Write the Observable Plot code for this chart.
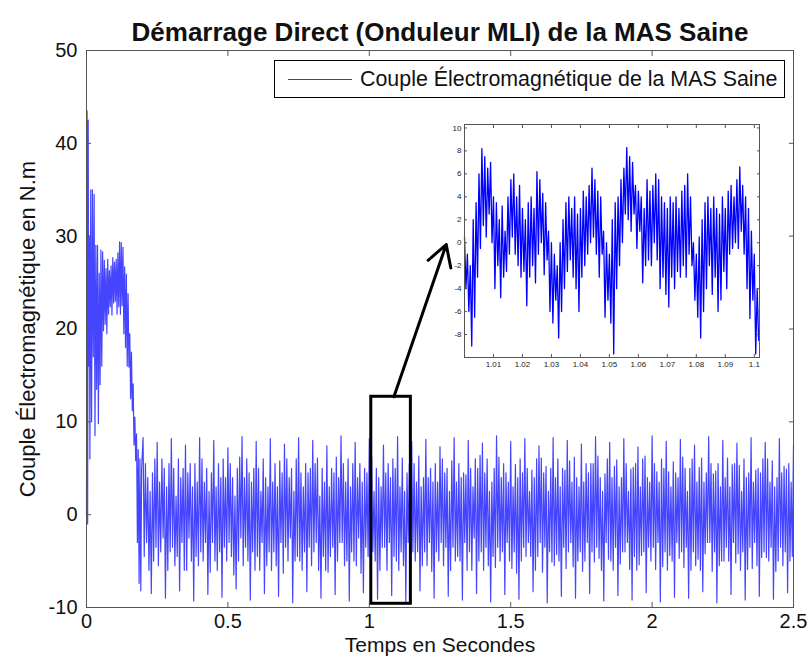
<!DOCTYPE html>
<html><head><meta charset="utf-8">
<script src="https://cdn.jsdelivr.net/npm/d3@7"></script>
<script src="https://cdn.jsdelivr.net/npm/@observablehq/plot@0.6"></script>
<style>
body{margin:0;background:#fff;font-family:"Liberation Sans",Arial,sans-serif;}
#wrap{position:relative;width:811px;height:665px;overflow:hidden;background:#fff;}
#main,#inset{position:absolute;}
#legend{position:absolute;left:274px;top:60px;width:511px;height:38px;border:1px solid #000;background:#fff;box-sizing:border-box;}
#legend .sw{position:absolute;left:13px;top:18px;width:64px;height:0;border-top:1px solid #3434ff;}
#legend .lb{position:absolute;left:85px;top:6px;font-size:21.4px;line-height:24px;color:#111;white-space:nowrap;}
</style></head>
<body><div id="wrap"><div id="main"></div><div id="inset"></div>
<div id="legend"><div class="sw"></div><div class="lb">Couple Électromagnétique de la MAS Saine</div></div></div>
<script>
// ---- texts
const titleText = "Démarrage Direct (Onduleur MLI) de la MAS Saine";
const xLabelText = "Temps en Secondes";
const yLabelText = "Couple Électromagnétique en N.m";
// ---- main ticks
const xTicks = [0, 0.5, 1, 1.5, 2, 2.5];
const yTicks = [-10, 0, 10, 20, 30, 40, 50];
// ---- start-up transient (time s, torque N.m)
const transientTime = [0,0.002,0.004,0.006,0.008,0.010,0.012,0.015,0.018,0.021,0.024,0.027,0.030,0.033,0.036,0.039,0.042,0.045,0.048,0.051,0.054,0.057,0.060,0.063,0.066,0.069,0.072,0.075,0.078,0.081,0.084,0.087,0.090,0.093,0.096,0.099,0.102,0.105,0.108,0.111,0.114,0.117,0.120,0.123,0.126,0.129,0.132,0.135,0.138,0.141,0.144,0.147,0.150,0.153,0.156,0.159,0.162,0.165,0.168,0.171,0.174,0.177,0.180,0.183,0.186,0.189,0.192,0.195];
const transientTorque = [0,43.5,-1,42.5,16,30,6,35,10,35,
 17,34.5,8.5,29,13.5,29,9.8,26,14,28.5,
 16,28.3,19.8,27.4,20.5,26.5,19.5,27.5,21.6,26.3,
 22.4,26.8,21.5,27.7,22.8,27.2,23,27.5,21.6,28.2,
 22.4,29.4,21.6,29.3,22.5,28.8,19.5,26.7,18,25.9,
 16,23.8,15.9,19.5,12.5,17.5,11.2,14.1,7.5,10.5,
 5.8,8.7,-3,7,-7.4,6,-8.2,5];
// ---- steady state, sampled from 0.2 s every 1/240 s (one row = 0.05 s)
const steadyStart = 0.2, steadyStep = 1/240;
const steadyTorque = [
 8.3,-4.5,5.5,-3,4,-6,2.5,-8.5,4.5,-5,6,-3.5,
 7.8,-5.5,3.5,-4,6,-2.5,5,-9,3,-6,5.5,-4,
 8.2,-3.5,5,-5.5,2,-4.5,6,-8.2,4,-3,5,-6,
 7.5,-6,4.5,-2.5,5.5,-5,3,-9.3,5.5,-4.5,3.5,-5.5,
 8.3,-4,6,-5,3.5,-3,5,-8.6,2.5,-6.2,4.5,-3,
 8,-5,3,-6,5.5,-4,4,-8.9,6,-3.5,4,-5,
 7.2,-3,5.5,-4.5,4,-6.5,2,-8,5,-5,6.2,-2.5,
 8.4,-5.5,4,-3.5,6,-5,4.5,-9.2,3.5,-4,5,-6,
 7.9,-4.5,5,-6,2.5,-3,6,-8.5,4,-5.5,3,-4,
 8.2,-6,3.5,-4,5.5,-5.5,3,-8.8,5.8,-3,4.5,-6.3,
 7.6,-3.5,6,-5,4,-2.5,5,-9.5,2.5,-5,6,-4.5,
 8.3,-5,4.5,-6,3,-4,5.5,-8.3,4.5,-3.5,5,-5.5,
 8,-4,5.5,-3,6.1,-6,2,-9,5,-4.5,3.5,-6,
 7.4,-6.2,3,-4.5,5,-3.5,4.5,-8.6,6.2,-5,4,-3,
 8.5,-3,5.5,-5.5,3.5,-5,6,-9.3,3,-4,5.5,-5,
 7.8,-5.5,4,-2.5,5.5,-6.3,3.5,-8.4,5,-3.5,4.5,-4.5,
 8.2,-4.5,6.2,-4,2.5,-5,5,-9.1,4,-6,3,-3.5,
 7.5,-3.5,4.5,-6,5.5,-3,4,-8.7,6,-4.5,5,-5,
 8.4,-6,3,-4,6.1,-5.5,2.5,-9.4,4.5,-3,5.5,-6,
 7.9,-4,5.5,-5,3.5,-4,6.3,-8.2,3,-5.5,4,-4,
 8.1,-5.5,4,-3,5,-6.1,3.5,-9,5.5,-4,3.5,-5,
 7.3,-3,6,-5.5,4.5,-3.5,5,-8.8,2.5,-6,5.8,-3.5,
 8.3,-5,3.5,-4.5,5.5,-5,4,-9.2,4.5,-3,4.3,-6,
 8,-4,5,-6,3,-2.5,6,-8.5,5,-5,6.4,-4,
 7.7,-6,4.5,-3.5,6,-5.5,2.5,-9.4,3.5,-4.5,5,-5.7,
 8.5,-3.5,6.2,-5,4,-4,5.5,-8.6,4.5,-3,3.5,-5,
 7.9,-5.8,3,-4,5.4,-6.3,4,-9.1,6,-5,4.5,-3.5,
 8.2,-4.5,5,-3,2.5,-4.5,4.8,-8.3,4,-6,6,-4.5,
 7.4,-3,6.1,-6.2,4.5,-3.5,5.2,-9.5,2.5,-4,5,-5.1,
 8.3,-5.5,4,-4.3,6,-5,3,-8.8,5,-3.5,4.8,-5.8,
 8,-4,5.8,-3,3.5,-5.6,6.2,-9,4,-5,3,-4,
 7.6,-6.1,3.5,-5,5.5,-3,4.5,-8.5,5.5,-4,5.5,-5.1,
 8.4,-3.5,6.3,-4.7,4,-6,2.5,-9.3,4.4,-3,6,-4.8,
 7.8,-5,4,-6,5.2,-3.5,5.9,-8.7,3,-5.3,4,-4,
 8.2,-4,5.5,-3,2.5,-5.9,4.9,-9.2,5.1,-4.5,5.5,-6,
 7.3,-5.4,3,-4.4,6,-4,6.3,-8.4,4,-3.5,3.5,-5,
 8.5,-3.5,5.5,-5.9,4.6,-3,3.5,-9.4,6,-5.6,5,-4,
 7.9,-6,4.6,-4.4,3,-5,5.7,-8.9,4.5,-3,4,-4.7,
 8.1,-4,6.2,-5.7,5,-3.5,2.5,-9,5,-6,6,-4,
 7.5,-5.5,3.5,-4.8,5.1,-6,6.1,-8.3,3.5,-4.2,4.5,-3,
 8.4,-3,5.5,-6.1,4.4,-4,4.7,-9.5,5.5,-5.5,3,-5,
 8,-5,4,-3.5,6.1,-5,3,-8.6,5.4,-3,5.5,-5.2,
 7.7,-4.2,5.3,-6,2.5,-4,6,-9.2,4,-5.9,4.5,-3.5,
 8.3,-5.8,3.5,-3,4.8,-5.5,5,-8.8,4.5,-4.6,6,-4,
 7.8,-4.6,6,-5,3.5,-3.5,5.8,-9.1,3,-6.1,4,-5,
 8.2,-3.5,4.5,-5.5,5.2,-4,4.9,-8.4,5.5,-5,3.5,-4.5,
 7.5];
// ---- zoom window annotation (time s, torque N.m)
const zoomTime = [1.007, 1.147];
const zoomTorque = [-9.6, 12.7];
const arrowFrom = [1.087, 12.7];
const arrowTo = [1.272, 29.1];
// ---- inset: 1.0 s .. 1.1015 s sampled every 0.5 ms
const insetStart = 1.0, insetStep = 0.0005;
const insetTorque = [
 0.5,-4, -1,-6, -2,-9, 2,-6.5, 3.5,-3, 6,-0.5, 8.2,1.5, 7.5,0.5, 6.5,2.5, 7,0,
 4,-4, 3.5,-2, 2,-4.8, 3.2,-3, 1,-2.5, 4,-1, 5.5,0.5, 6,-1, 4,-2, 5,-3,
 3,-2.5, 2,-5.5, 3.5,-3, 4,-2, 3,-3.5, 6.2,-1, 5.5,0, 4.3,-2.8, 3.5,-1.5, 1,-6,
 0,-7, -1,-5, -2,-8.3, 0,-6, 2,-4, 3.5,-2.5, 4,-1.5, 3,-3, 4,-4, 2.5,-6,
 3,-3, 4.5,-2, 4,-1, 5,0, 6.5,0.5, 5.5,-1, 4.5,-3, 4,-1, 1,-6.5, 0,-5,
 -1,-7, 2,-9.7, 3.5,-4, 4,-2, 5.5,0, 6.5,2.5, 8.3,2, 7.5,1, 7,2.5, 5,-0.5,
 4.5,1, 4,-3.5, 3,-2, 5.5,-1.5, 4.5,-2, 5,0, 6,-1.5, 5.5,-4, 4,-3, 3.5,-4.5,
 3,-5.6, 4,-3, 3.5,-4, 4,-2.5, 3,-3, 4.5,-2, 5,-3, 6,-1, 4,-2, 0,-5,
 -1,-6.5, 0.5,-8.3, 2,-6, 3.5,-4, 4,-2, 3,-4.5, 4,-3, 3,-6, 2.5,-5, 4,-2.5,
 3,-4, 4.5,-1, 5,-0.5, 4,0, 5.5,-0.5, 6.6,1, 5,-1, 4,-4, 3,-6.6, 1,-5,
 -1,-9.7, -4,-8.5];
const insetXTicks = [1.01,1.02,1.03,1.04,1.05,1.06,1.07,1.08,1.09,1.1];
const insetYTicks = [-8,-6,-4,-2,0,2,4,6,8,10];

// ---- build tables
const mainData = transientTime.map((t, i) => ({t, v: transientTorque[i]}))
  .concat(steadyTorque.map((v, i) => ({t: steadyStart + i * steadyStep, v})));
const insetData = insetTorque.map((v, i) => ({t: insetStart + i * insetStep, v}));

const FONT = "Liberation Sans, Arial, sans-serif";
const main = Plot.plot({
  width: 811, height: 665,
  marginTop: 50, marginRight: 18, marginBottom: 58, marginLeft: 86,
  style: {fontFamily: FONT, color: "#111", background: "transparent"},
  x: {domain: [0, 2.5]},
  y: {domain: [-10, 50]},
  marks: [
    Plot.line(mainData, {x: "t", y: "v", stroke: "#4545ff", strokeWidth: 1.2}),
    Plot.rect([0], {x1: () => zoomTime[0], x2: () => zoomTime[1], y1: () => zoomTorque[0], y2: () => zoomTorque[1], fill: "none", stroke: "#000", strokeWidth: 3}),
    Plot.arrow([0], {x1: () => arrowFrom[0], y1: () => arrowFrom[1], x2: () => arrowTo[0], y2: () => arrowTo[1], stroke: "#000", strokeWidth: 3, headLength: 12}),
    Plot.frame({stroke: "#555"}),
    Plot.axisX({ticks: xTicks, tickSize: -5, tickPadding: 11, fontSize: 20, tickFormat: d => String(d), label: null, stroke: "#555"}),
    Plot.axisX({anchor: "top", ticks: xTicks, tickSize: -5, tickFormat: () => "", label: null, stroke: "#555"}),
    Plot.axisY({ticks: yTicks, tickSize: -5, tickPadding: 14, fontSize: 20, tickFormat: d => String(d), label: null, stroke: "#555"}),
    Plot.axisY({anchor: "right", ticks: yTicks, tickSize: -5, tickFormat: () => "", label: null, stroke: "#555"}),
    Plot.text([titleText], {frameAnchor: "top", dy: -28, fontSize: 26, fontWeight: "bold", fill: "#111"}),
    Plot.text([xLabelText], {frameAnchor: "bottom", dy: 44, fontSize: 21, fill: "#111"}),
    Plot.text([yLabelText], {frameAnchor: "left", textAnchor: "middle", dx: -59, rotate: -90, fontSize: 22, fill: "#111"})
  ]
});
const mainDiv = document.getElementById("main");
mainDiv.style.left = "0px"; mainDiv.style.top = "0px";
mainDiv.appendChild(main);

const inset = Plot.plot({
  width: 325, height: 257,
  marginTop: 6, marginRight: 6, marginBottom: 18, marginLeft: 24,
  style: {fontFamily: FONT, color: "#222", background: "transparent"},
  x: {domain: [1.0, 1.1018]},
  y: {domain: [-10, 10.3]},
  marks: [
    Plot.frame({fill: "#fff"}),
    Plot.line(insetData, {x: "t", y: "v", stroke: "#0000ff", strokeWidth: 1.3}),
    Plot.frame({stroke: "#555"}),
    Plot.axisX({ticks: insetXTicks, tickSize: -3, tickPadding: 7, fontSize: 8, tickFormat: d => String(d), label: null, stroke: "#555"}),
    Plot.axisX({anchor: "top", ticks: insetXTicks, tickSize: -3, tickFormat: () => "", label: null, stroke: "#555"}),
    Plot.axisY({ticks: insetYTicks, tickSize: -3, tickPadding: 6, fontSize: 8, tickFormat: d => String(d), label: null, stroke: "#555"}),
    Plot.axisY({anchor: "right", ticks: insetYTicks, tickSize: -3, tickFormat: () => "", label: null, stroke: "#555"})
  ]
});
const insetDiv = document.getElementById("inset");
insetDiv.style.left = "440px"; insetDiv.style.top = "118px";
insetDiv.appendChild(inset);
</script>
</body></html>
